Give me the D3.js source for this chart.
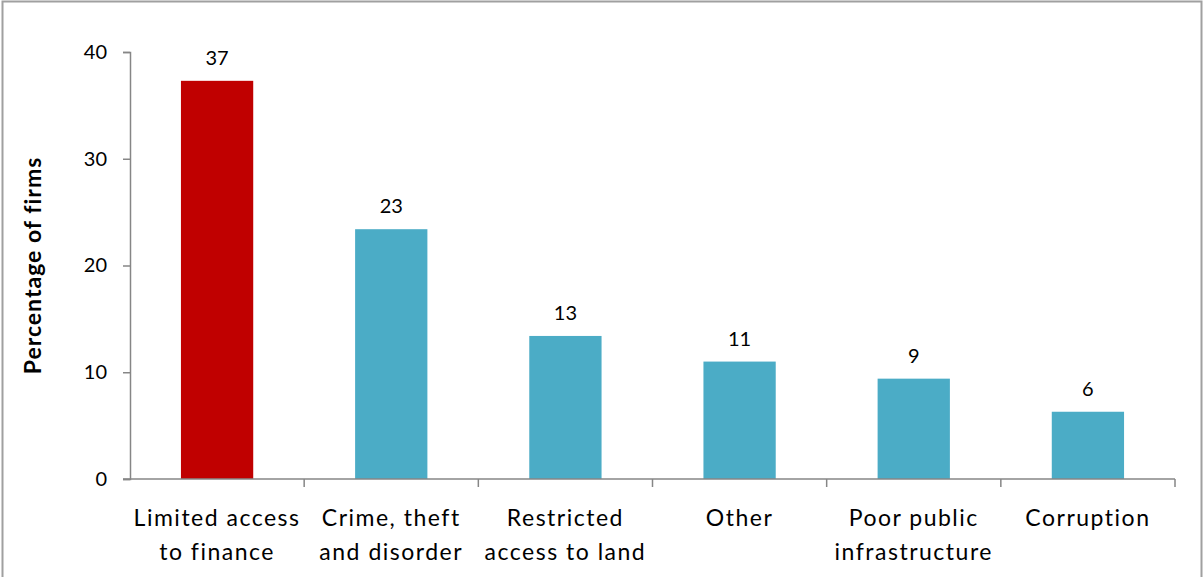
<!DOCTYPE html>
<html>
<head>
<meta charset="utf-8">
<script src="https://cdn.jsdelivr.net/npm/d3@7"></script>
<style>
  html, body { margin: 0; padding: 0; background: #fff; }
  svg { display: block; }
</style>
</head>
<body>
<svg id="chart" width="1203" height="577"></svg>
<script>
// Main obstacles reported by firms
const categories = [
  ["Limited access", "to finance"],
  ["Crime, theft", "and disorder"],
  ["Restricted", "access to land"],
  ["Other"],
  ["Poor public", "infrastructure"],
  ["Corruption"]
];
const values = [37.3, 23.4, 13.4, 11.0, 9.4, 6.3];
const barColors = ["#C00000", "#4BACC6", "#4BACC6", "#4BACC6", "#4BACC6", "#4BACC6"];
const yTicks = [0, 10, 20, 30, 40];
const yTitle = "Percentage of firms";

const W = 1203, H = 577;
const margin = { left: 130, right: 28, top: 52, bottom: 98 };
const svg = d3.select("#chart");

// frame around the chart area
svg.append("path")
  .attr("d", `M2.5,${H} V1.5 H1201.5 V${H}`)
  .attr("fill", "none")
  .attr("stroke", "#a0a0a0")
  .attr("stroke-width", 2);

const x = d3.scaleBand()
  .domain(d3.range(categories.length))
  .range([margin.left, W - margin.right])
  .paddingInner(0.585)
  .paddingOuter(0.2925);

const y = d3.scaleLinear()
  .domain([0, 40])
  .range([H - margin.bottom, margin.top]);

const fontFamily = "Lato, 'Open Sans', sans-serif";
const axisColor = "#868686";

// bars
svg.append("g").selectAll("rect")
  .data(values)
  .join("rect")
  .attr("x", (d, i) => x(i))
  .attr("y", d => y(d))
  .attr("width", x.bandwidth())
  .attr("height", d => y(0) - y(d))
  .attr("fill", (d, i) => barColors[i]);

// value labels
svg.append("g").selectAll("text")
  .data(values)
  .join("text")
  .attr("x", (d, i) => x(i) + x.bandwidth() / 2)
  .attr("y", d => y(d) - 16)
  .attr("text-anchor", "middle")
  .attr("font-family", fontFamily)
  .attr("font-size", 20)
  .attr("fill", "#000")
  .text(d => d3.format(".0f")(d));

// y axis
const yAxis = svg.append("g")
  .attr("transform", `translate(${margin.left},0)`)
  .call(d3.axisLeft(y).tickValues(yTicks).tickSize(7).tickPadding(16).tickFormat(d3.format("d")));
yAxis.select(".domain").attr("stroke", axisColor).attr("stroke-width", 1.5);
yAxis.selectAll(".tick line").attr("stroke", axisColor).attr("stroke-width", 1.5);
yAxis.selectAll(".tick text")
  .attr("font-family", fontFamily)
  .attr("font-size", 20)
  .attr("fill", "#000");

// x axis with ticks between categories
const x0 = margin.left, x1 = W - margin.right;
const step = (x1 - x0) / categories.length;
const xAxisG = svg.append("g");
xAxisG.append("line")
  .attr("x1", x0 - 7).attr("x2", x1)
  .attr("y1", y(0)).attr("y2", y(0))
  .attr("stroke", axisColor).attr("stroke-width", 1.5);
xAxisG.selectAll("line.sep")
  .data(d3.range(1, categories.length + 1))
  .join("line")
  .attr("class", "sep")
  .attr("x1", i => x0 + i * step).attr("x2", i => x0 + i * step)
  .attr("y1", y(0)).attr("y2", y(0) + 8)
  .attr("stroke", axisColor).attr("stroke-width", 1.5);

// category labels
const catText = svg.append("g").selectAll("text")
  .data(categories)
  .join("text")
  .attr("x", (d, i) => x(i) + x.bandwidth() / 2)
  .attr("y", 526)
  .attr("text-anchor", "middle")
  .attr("font-family", fontFamily)
  .attr("font-size", 23)
  .attr("letter-spacing", 1.5)
  .attr("fill", "#000");
catText.selectAll("tspan")
  .data(d => d)
  .join("tspan")
  .attr("x", function () { return this.parentNode.getAttribute("x"); })
  .attr("dy", (d, i) => i === 0 ? 0 : 34)
  .text(d => d);

// y axis title
svg.append("text")
  .attr("transform", `translate(41,${(y(0) + y(40)) / 2}) rotate(-90)`)
  .attr("text-anchor", "middle")
  .attr("font-family", fontFamily)
  .attr("font-weight", "bold")
  .attr("font-size", 23)
  .attr("letter-spacing", 1)
  .attr("fill", "#000")
  .text(yTitle);
</script>
</body>
</html>
